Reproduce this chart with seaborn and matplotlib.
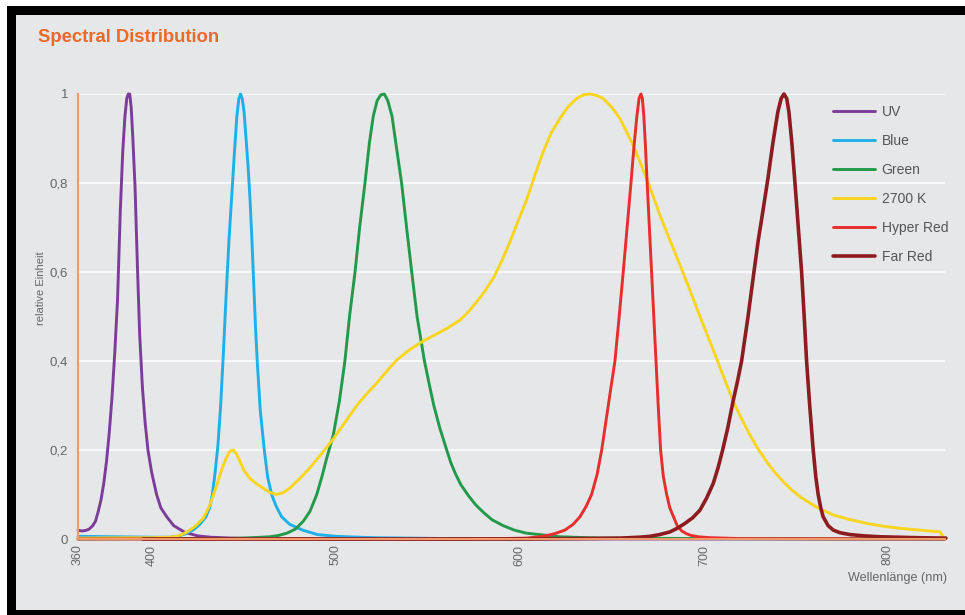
import pandas as pd
import matplotlib
matplotlib.use("Agg")
import matplotlib.pyplot as plt
from matplotlib.patches import Rectangle
import seaborn as sns

# Spectral curves (wavelength in nm, relative value)
uv_nm = [360, 362, 364, 366, 368, 369.5, 371, 372.5, 374, 375.5, 377, 378.5, 380,
         381.5, 383, 384.3, 385.5, 386.5, 387.3, 388.1, 388.9, 389.8, 391, 392.3,
         393.5, 395, 396.5, 398, 400, 402.7, 405, 408.2, 412, 418, 425, 432, 450,
         500, 831]
uv_val = [0.02, 0.018, 0.019, 0.022, 0.03, 0.04, 0.062, 0.088, 0.125, 0.175, 0.24,
          0.32, 0.42, 0.54, 0.74, 0.87, 0.95, 0.99, 1.0, 1.0, 0.97, 0.9, 0.79, 0.61,
          0.46, 0.34, 0.26, 0.2, 0.15, 0.1, 0.07, 0.05, 0.03, 0.015, 0.007, 0.004,
          0.001, 0, 0]

blue_nm = [360, 380, 400, 410, 414, 418, 422.5, 426, 429.5, 431.5, 433, 434.5, 436,
           437.5, 439, 440.5, 442, 443.5, 445, 446.3, 447.4, 448.3, 449.2, 450.2,
           451.3, 452.5, 453.5, 454.5, 455.5, 456.5, 457.5, 459, 461.2, 463, 465.2,
           467.5, 470.6, 475, 482, 490, 500, 520, 560, 650, 760]
blue_val = [0.006, 0.005, 0.004, 0.004, 0.006, 0.011, 0.02, 0.032, 0.05, 0.07, 0.1,
            0.15, 0.21, 0.3, 0.42, 0.55, 0.67, 0.77, 0.87, 0.95, 0.99, 1.0, 0.99,
            0.96, 0.9, 0.83, 0.76, 0.67, 0.57, 0.47, 0.39, 0.29, 0.2, 0.14, 0.1,
            0.075, 0.05, 0.033, 0.02, 0.01, 0.006, 0.003, 0.001, 0.001, 0.001]

green_nm = [360, 440, 455, 464.3, 469, 473.4, 478, 482.4, 486, 489.7, 492.5, 495,
            498.7, 502, 505, 507.5, 510.5, 513, 515.9, 518.3, 520.4, 522.5, 524.5,
            526.4, 528.3, 530.6, 533, 535.8, 538.5, 541.3, 544.2, 546.2, 548.2,
            550.7, 553.3, 556.5, 560.3, 562.5, 565, 568, 572, 576, 580.2, 585, 591,
            597, 603.7, 621.8, 643.5, 700, 831]
green_val = [0, 0.001, 0.003, 0.005, 0.008, 0.013, 0.022, 0.04, 0.062, 0.1, 0.14,
             0.18, 0.234, 0.31, 0.4, 0.5, 0.6, 0.7, 0.8, 0.89, 0.95, 0.985, 0.998,
             1.0, 0.985, 0.95, 0.88, 0.8, 0.7, 0.6, 0.5, 0.45, 0.4,
             0.35, 0.3, 0.25, 0.2, 0.172, 0.147, 0.122, 0.098, 0.077, 0.06, 0.043,
             0.03, 0.02, 0.013, 0.005, 0.002, 0.001, 0]

warm_nm = [360, 400, 410, 413.6, 417, 420.8, 424, 428.1, 431.5, 435.3, 438, 440.5,
           442.5, 444.4, 446, 448, 450, 453.4, 457, 460.7, 464, 467.9, 471.5, 475.2,
           480, 486, 492, 498.7, 505, 511.4, 516.8, 522.2, 527.5, 533.1, 540, 547.6,
           554, 560.3, 567.5, 572, 576.6, 581, 585.6, 590, 594.7, 599, 603.7, 608,
           612.7, 617, 621.8, 626, 630.9, 634.5, 638.1, 641.5, 645.3, 650, 654.4,
           658, 661.6, 665, 668.9, 672.5, 676.1, 681.5, 687, 692.5, 697.9, 702.5,
           706.9, 711.5, 716, 720.5, 725, 729.5, 734.1, 738.5, 743.1, 747.5, 752.2,
           761, 770.3, 779, 788.4, 797, 806.5, 817, 828.2, 831]
warm_val = [0.002, 0.003, 0.004, 0.006, 0.011, 0.02, 0.03, 0.047, 0.075, 0.12, 0.155,
            0.182, 0.197, 0.2, 0.192, 0.174, 0.155, 0.136, 0.124, 0.114, 0.105, 0.1,
            0.104, 0.115, 0.134, 0.16, 0.19, 0.225, 0.262, 0.3, 0.326, 0.35, 0.376,
            0.402, 0.425, 0.445, 0.459, 0.473, 0.492, 0.51, 0.533, 0.557, 0.586,
            0.623, 0.668, 0.714, 0.762, 0.815, 0.87, 0.912, 0.945, 0.97, 0.99,
            0.998, 1.0, 0.997, 0.99, 0.97, 0.945, 0.915, 0.885, 0.85, 0.81, 0.77,
            0.728, 0.672, 0.616, 0.558, 0.5, 0.452, 0.406, 0.356, 0.309, 0.27,
            0.234, 0.202, 0.174, 0.15, 0.129, 0.111, 0.095, 0.072, 0.054, 0.044,
            0.035, 0.029, 0.024, 0.02, 0.016, 0.0]

hyper_nm = [360, 560, 590, 603.7, 612.7, 619, 624.5, 629, 632.7, 636, 639, 642,
            644.5, 647, 649.5, 651.7, 654, 656.2, 658.3, 660.4, 662, 663.6, 664.8,
            665.8, 666.6, 667.4, 668.3, 669.2, 670.4, 671.6, 672.8, 674, 675.2,
            676.5, 678, 679.8, 681.5, 683.5, 685.5, 688, 690.5, 693, 697, 703.3,
            719.6, 831]
hyper_val = [0, 0, 0.001, 0.002, 0.006, 0.012, 0.02, 0.033, 0.05, 0.073, 0.1, 0.145,
             0.2, 0.27, 0.34, 0.4, 0.5, 0.6, 0.7, 0.8, 0.88, 0.95, 0.99,
             1.0, 0.99, 0.95, 0.88, 0.8, 0.7, 0.6, 0.5, 0.4, 0.3,
             0.2, 0.14, 0.1, 0.07, 0.05, 0.03, 0.018, 0.012, 0.008, 0.005, 0.003,
             0.001, 0]

far_nm = [395.3, 600, 630, 654.4, 665, 670.7, 676, 681.6, 685.5, 689.7, 694, 697.9,
          701.5, 705.1, 707.7, 710.2, 713, 716, 718.3, 720.5, 724, 727.2, 729.5,
          732, 734.8, 737.5, 740.2, 742, 743.5, 745, 746.2, 747.8, 749.5, 751.3,
          753.1, 754.5, 755.8, 757.5, 759.4, 760.8, 762.1, 763.5, 764.8, 767.5,
          770.3, 774, 779.3, 787, 795.6, 815, 831.5]
far_val = [0, 0, 0.001, 0.002, 0.004, 0.006, 0.01, 0.016, 0.024, 0.035, 0.048, 0.065,
           0.092, 0.125, 0.16, 0.2, 0.25, 0.312, 0.355, 0.4, 0.5, 0.6, 0.67,
           0.735, 0.81, 0.89, 0.96, 0.99, 1.0, 0.99, 0.96, 0.89, 0.8, 0.7,
           0.6, 0.5, 0.4, 0.3, 0.2, 0.14, 0.1, 0.07, 0.05, 0.03,
           0.02, 0.014, 0.01, 0.007, 0.005, 0.003, 0.002]

labels = ["UV", "Blue", "Green", "2700 K", "Hyper Red", "Far Red"]
colors = ["#7c3d98", "#1fb0e8", "#23994a", "#f8d520", "#e62e2c", "#8c1c1f"]
widths = [2.1, 2.1, 2.1, 2.1, 2.1, 2.6]

x_ticks = [360, 400, 500, 600, 700, 800]
y_ticks = [0, 0.2, 0.4, 0.6, 0.8, 1]
y_ticklabels = ["0", "0,2", "0,4", "0,6", "0,8", "1"]

panel = "#e6e7e9"
spine_orange = "#ef9a68"
text_grey = "#666666"

sns.set_style("white", {"axes.facecolor": panel, "grid.color": "white"})
plt.rcParams["font.family"] = ["Liberation Sans", "DejaVu Sans"]

frames = []
series = [(uv_nm, uv_val), (blue_nm, blue_val), (green_nm, green_val),
          (warm_nm, warm_val), (hyper_nm, hyper_val), (far_nm, far_val)]
for name, (xs, ys) in zip(labels, series):
    frames.append(pd.DataFrame({"nm": xs, "value": ys, "series": name}))
df = pd.concat(frames, ignore_index=True)

fig = plt.figure(figsize=(9.65, 6.15), dpi=100, facecolor="white")
W, H = 965, 615
# black frame with grey panel, as in the screenshot
fig.patches.append(Rectangle((7 / W, 0), 1, 1 - 6 / H, transform=fig.transFigure,
                             facecolor="black", edgecolor="none", zorder=-2))
fig.patches.append(Rectangle((16 / W, 5 / H), 1, 1 - 20 / H, transform=fig.transFigure,
                             facecolor=panel, edgecolor="none", zorder=-1))

ax = fig.add_axes([78 / W, (615 - 539) / H, 867 / W, 445 / H])
ax.set_facecolor(panel)

for name, col, lw in zip(labels, colors, widths):
    sub = df[df["series"] == name]
    sns.lineplot(data=sub, x="nm", y="value", color=col, linewidth=lw,
                 label=name, ax=ax, estimator=None, sort=False)

for line in ax.get_lines():
    line.set_clip_on(False)
    line.set_solid_capstyle("round")
    line.set_solid_joinstyle("round")

ax.set_xlim(360, 831)
ax.set_ylim(0, 1)
ax.set_xticks(x_ticks)
ax.set_xticklabels([str(t) for t in x_ticks], rotation=90)
ax.set_yticks(y_ticks)
ax.set_yticklabels(y_ticklabels)
ax.tick_params(axis="x", length=0, pad=4, labelsize=9, labelcolor=text_grey)
ax.tick_params(axis="y", length=0, pad=7, labelsize=9.5, labelcolor=text_grey)
ax.yaxis.grid(True, color="white", linewidth=1.1)
ax.xaxis.grid(False)
ax.set_axisbelow(True)
ax.set_xlabel("")
ax.set_ylabel("")

sns.despine(ax=ax, top=True, right=True)
for side in ("left", "bottom"):
    ax.spines[side].set_color(spine_orange)
    ax.spines[side].set_linewidth(1.5)

leg = ax.legend(loc="upper left", bbox_to_anchor=(833 / W, 1 - 105 / H),
                bbox_transform=fig.transFigure, frameon=False, fontsize=10,
                handlelength=3.0, handletextpad=0.5, labelspacing=1.08,
                borderaxespad=0, borderpad=0)
for t in leg.get_texts():
    t.set_color("#555555")

fig.text(38 / W, 1 - 37 / H, "Spectral Distribution", color="#ea6a2a",
         fontsize=13.3, fontweight="bold", ha="left", va="center")
fig.text(947 / W, 1 - 578 / H, "Wellenlänge (nm)", color=text_grey,
         fontsize=9.1, ha="right", va="center")
fig.text(41 / W, 1 - 288 / H, "relative Einheit", color=text_grey,
         fontsize=8, rotation=90, ha="center", va="center")

plt.savefig("out.png", dpi=100, facecolor=fig.get_facecolor())
